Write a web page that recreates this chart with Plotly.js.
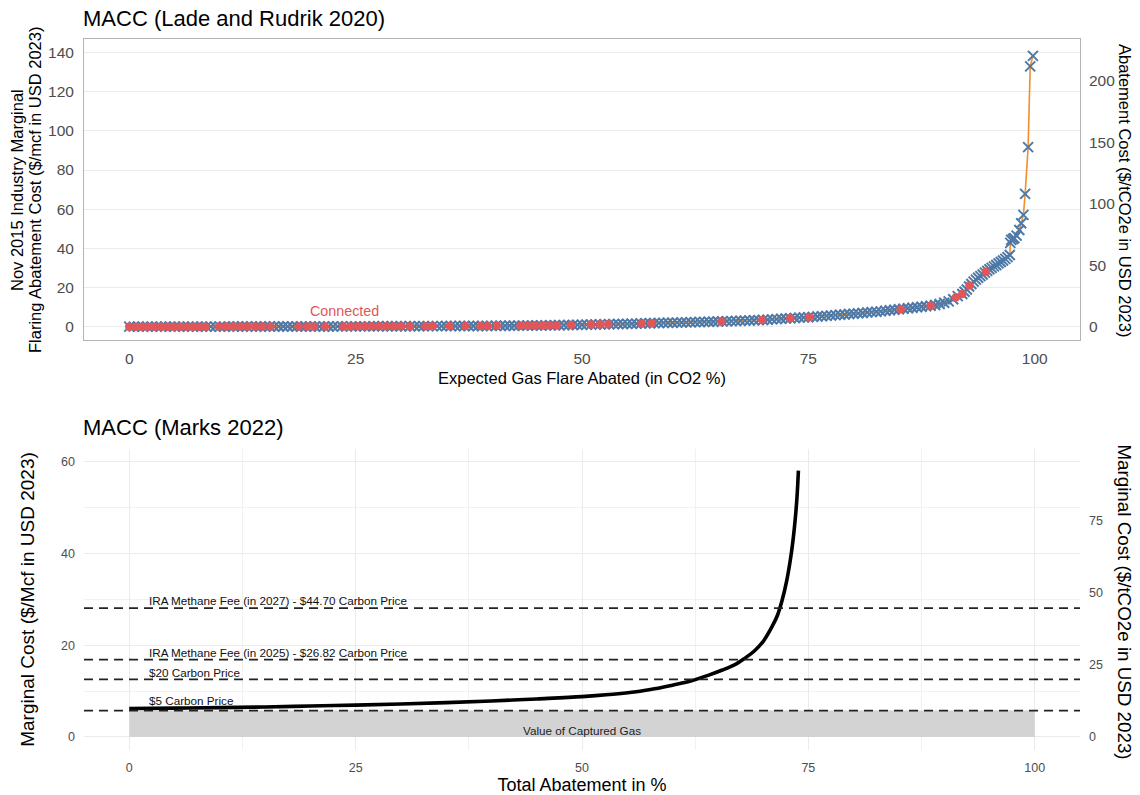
<!DOCTYPE html>
<html>
<head>
<meta charset="utf-8">
<script src="https://cdn.plot.ly/plotly-3.0.1.min.js"></script>
<style>html,body{margin:0;padding:0;background:#fff;}#chart{width:1140px;height:795px;}</style>
</head>
<body>
<div id="chart"></div>
<script>
// ---------- DATA: top panel (Lade and Rudrik 2020) ----------
const flareX = [
  0,0.5,1,1.5,2,2.5,3,3.5,4,4.5,5,5.5,6,6.5,7,7.5,8,8.5,9,9.5,
  10,10.5,11,11.5,12,12.5,13,13.5,14,14.5,15,15.5,16,16.5,17,17.5,18,18.5,19,19.5,
  20,20.5,21,21.5,22,22.5,23,23.5,24,24.5,25,25.5,26,26.5,27,27.5,28,28.5,29,29.5,
  30,30.5,31,31.5,32,32.5,33,33.5,34,34.5,35,35.5,36,36.5,37,37.5,38,38.5,39,39.5,
  40,40.5,41,41.5,42,42.5,43,43.5,44,44.5,45,45.5,46,46.5,47,47.5,48,48.5,49,49.5,
  50,50.5,51,51.5,52,52.5,53,53.5,54,54.5,55,55.5,56,56.5,57,57.5,58,58.5,59,59.5,
  60,60.5,61,61.5,62,62.5,63,63.5,64,64.5,65,65.5,66,66.5,67,67.5,68,68.5,69,69.5,
  70,70.5,71,71.5,72,72.5,73,73.5,74,74.5,75,75.5,76,76.5,77,77.5,78,78.5,79,79.5,
  80,80.5,81,81.5,82,82.5,83,83.5,84,84.5,85,85.5,86,86.5,87,87.5,88,88.5,89,89.5,
  90,90.5,91,91.5,92,
  92.25,92.5,92.75,93,93.25,93.5,93.75,94,94.25,94.5,94.75,95,95.25,95.5,95.75,96,96.25,96.5,96.75,97,97.25,
  97.3,97.4,97.6,97.75,98,98.3,98.5,98.75,98.94,99.27,99.5,99.8
];
const flareY = [
  0,0,0,0,0,0,0,0,0,0,0,0,0,0,0,0,0,0,0,0,
  0.03,0.03,0.04,0.04,0.04,0.05,0.05,0.05,0.05,0.05,0.06,0.06,0.06,0.06,0.07,0.07,0.07,0.08,0.08,0.08,
  0.1,0.1,0.11,0.11,0.12,0.12,0.13,0.13,0.14,0.14,0.15,0.15,0.16,0.16,0.17,0.17,0.18,0.18,0.19,0.19,
  0.2,0.21,0.22,0.23,0.24,0.25,0.26,0.26,0.27,0.28,0.29,0.29,0.3,0.31,0.32,0.33,0.34,0.34,0.35,0.36,
  0.4,0.42,0.44,0.46,0.48,0.5,0.52,0.54,0.56,0.58,0.6,0.63,0.66,0.69,0.72,0.75,0.79,0.83,0.87,0.92,
  1.0,1.04,1.08,1.12,1.16,1.2,1.24,1.28,1.32,1.36,1.4,1.47,1.55,1.62,1.7,1.76,1.82,1.88,1.94,1.97,
  2.0,2.06,2.12,2.18,2.24,2.3,2.36,2.42,2.48,2.54,2.6,2.68,2.76,2.84,2.92,3.0,3.08,3.16,3.24,3.32,
  3.4,3.55,3.7,3.85,4.0,4.15,4.3,4.45,4.6,4.7,4.8,4.98,5.16,5.34,5.52,5.7,5.88,6.06,6.24,6.42,
  6.6,6.8,7.0,7.2,7.4,7.6,7.8,8.1,8.4,8.65,8.9,9.15,9.4,9.65,9.9,10.15,10.4,10.7,11.1,11.6,
  12.2,12.9,14.0,15.6,16.7,
  17.8,19.0,20.5,21.8,23.0,24.0,25.0,25.8,26.6,27.6,28.5,29.3,30.0,30.8,31.5,32.3,33.0,33.8,34.6,35.5,36.6,
  42.8,44.3,44.8,45.2,46.5,49.4,52.8,57.1,67.8,91.7,132.9,138.3
];
const connX = [
  0,0.7,1.4,2.1,2.8,3.5,4.2,4.9,5.6,6.3,7.0,7.7,8.4,
  9.9,10.7,11.5,12.3,13.1,13.9,14.7,15.6,
  18.7,19.6,20.4,21.6,
  23.6,24.4,25.2,26.0,26.8,27.6,28.4,29.2,30.0,
  31.0,32.7,33.5,35.4,37.1,
  38.8,39.6,40.6,
  43.2,44.0,44.8,45.6,46.4,47.2,
  48.8,
  51.0,52.0,52.9,
  56.6,57.7,
  65.4,69.9,73.0,75.1,85.2,88.5,91.3,92.0,92.8,94.6
];
const connY = [
  0,0,0,0,0,0,0,0,0,0,0,0,0,
  0.04,0.04,0.04,0.05,0.05,0.05,0.06,0.06,
  0.08,0.08,0.11,0.11,
  0.13,0.14,0.15,0.16,0.17,0.18,0.18,0.19,0.2,
  0.22,0.26,0.27,0.29,0.32,
  0.34,0.36,0.42,
  0.52,0.56,0.59,0.64,0.68,0.72,
  0.83,
  1.08,1.16,1.24,
  1.62,1.76,
  2.64,3.38,4.3,4.8,8.9,10.6,15.0,16.7,21.0,28.1
];
const connLabel = "Connected";
const connLabelX = 23.8, connLabelY = 8;
const topLeftTitle = ["Nov 2015 Industry Marginal", "Flaring Abatement Cost ($/mcf in USD 2023)"];
const topRightTitle = "Abatement Cost ($/tCO2e in USD 2023)";

// ---------- DATA: bottom panel (Marks 2022) ----------
const marksX = [0,5,10,15,20,25,30,35,40,45,50,53,56,58,60,62,64,65.5,67,68,69,70,71,71.6,72.1,72.6,73.0,73.3,73.55,73.75,73.9];
const marksY = [6.2,6.3,6.4,6.55,6.75,6.95,7.2,7.5,7.85,8.3,8.8,9.25,9.85,10.5,11.3,12.2,13.5,14.6,15.9,17.2,18.7,20.8,24.1,26.6,29.8,34.0,38.5,42.8,47.5,52.5,58.1];
const priceLabels = [
  "IRA Methane Fee (in 2027) - $44.70 Carbon Price",
  "IRA Methane Fee (in 2025) - $26.82 Carbon Price",
  "$20 Carbon Price",
  "$5 Carbon Price"
];
const priceValues = [28.1, 16.86, 12.57, 5.75];  // $/Mcf
const gasValueX = [0, 100];
const gasValueY = [5.75, 5.75];
const gasValueLabel = "Value of Captured Gas";
const gasLabelX = 50, gasLabelY = 1.5;
const botRightTitle = "Marginal Cost ($/tCO2e in USD 2023)";

const mcfToCO2 = 1.592; // secondary axis scale factor

// ---------- STYLES ----------
const FONT = "Liberation Sans, Arial, Helvetica, sans-serif";
const BLUE = "#4E79A7", RED = "#E15759", ORANGE = "#F28E2B";
const GRID = "#ebebeb", TICK = "#4d4d4d";

const topYRange = [-6.8, 146.9];
const botYRange = [-2.84, 62.8];
const xRange = [-5, 105];

const traces = [
  {x: flareX, y: flareY, type: "scatter", mode: "lines", xaxis: "x", yaxis: "y",
   line: {color: ORANGE, width: 1.6}, hoverinfo: "skip", showlegend: false},
  {x: flareX, y: flareY, type: "scatter", mode: "markers", xaxis: "x", yaxis: "y",
   marker: {symbol: "x-thin", size: 10, color: BLUE, line: {color: BLUE, width: 2}}, showlegend: false},
  {x: connX, y: connY, type: "scatter", mode: "markers", xaxis: "x", yaxis: "y",
   marker: {symbol: "circle", size: 8.5, color: RED}, showlegend: false},
  // invisible companion trace so the secondary $/tCO2e axis is drawn
  {x: flareX, y: flareY.map(v => v * mcfToCO2), type: "scatter", mode: "markers", xaxis: "x", yaxis: "y3",
   marker: {opacity: 0, size: 1}, hoverinfo: "skip", showlegend: false},
  // bottom panel
  {x: gasValueX, y: gasValueY, type: "scatter", mode: "lines", xaxis: "x2", yaxis: "y2",
   fill: "tozeroy", fillcolor: "#d3d3d3", line: {width: 0, color: "#d3d3d3"}, hoverinfo: "skip", showlegend: false},
  {x: marksX, y: marksY, type: "scatter", mode: "lines", xaxis: "x2", yaxis: "y2",
   line: {color: "#000", width: 3.6, shape: "spline", smoothing: 1}, showlegend: false},
  {x: marksX, y: marksY.map(v => v * mcfToCO2), type: "scatter", mode: "markers", xaxis: "x2", yaxis: "y4",
   marker: {opacity: 0, size: 1}, hoverinfo: "skip", showlegend: false}
];

const shapes = priceValues.map(v => ({
  type: "line", xref: "x2 domain", x0: 0, x1: 1, yref: "y2", y0: v, y1: v,
  line: {color: "#222", width: 1.8, dash: "9px,6px"}, layer: "above"
}));

const labelShift = [-1, -1, -2, 2];
const topLeftX = [-0.0673, -0.0492];
const annotations = [
  {text: "MACC (Lade and Rudrik 2020)", xref: "paper", yref: "paper", x: 0, y: 1.0295, xshift: -3,
   xanchor: "left", yanchor: "middle", showarrow: false, font: {family: FONT, size: 22, color: "#000"}},
  {text: "MACC (Marks 2022)", xref: "paper", yref: "paper", x: 0, y: 0.4529, xshift: -3,
   xanchor: "left", yanchor: "middle", showarrow: false, font: {family: FONT, size: 22, color: "#000"}},
  {text: topRightTitle, xref: "paper", yref: "paper", x: 1.0452, y: 0.7876, textangle: 90,
   xanchor: "center", yanchor: "middle", showarrow: false, font: {family: FONT, size: 16.5, color: "#000"}},
  {text: botRightTitle, xref: "paper", yref: "paper", x: 1.0452, y: 0.209, textangle: 90,
   xanchor: "center", yanchor: "middle", showarrow: false, font: {family: FONT, size: 18.8, color: "#000"}},
  {text: connLabel, xref: "x", yref: "y", x: connLabelX, y: connLabelY, showarrow: false,
   font: {family: FONT, size: 14.3, color: RED}},
  {text: gasValueLabel, xref: "x2", yref: "y2", x: gasLabelX, y: gasLabelY, showarrow: false,
   font: {family: FONT, size: 11.7, color: "#222"}}
].concat(topLeftTitle.map((t, i) => ({
  text: t, xref: "paper", yref: "paper", x: topLeftX[i], y: 0.7876, textangle: -90,
  xanchor: "center", yanchor: "middle", showarrow: false, font: {family: FONT, size: 16.5, color: "#000"}
}))).concat(priceLabels.map((t, i) => ({
  text: t, xref: "x2", yref: "y2", x: 2, y: priceValues[i], xanchor: "left", yanchor: "bottom",
  yshift: labelShift[i], showarrow: false, font: {family: FONT, size: 11.7, color: "#111"}
})));

const layout = {
  width: 1140, height: 795,
  margin: {l: 84, r: 60, t: 39, b: 45},
  paper_bgcolor: "#fff", plot_bgcolor: "#fff",
  font: {family: FONT, color: TICK},
  showlegend: false,
  xaxis: {domain: [0, 1], anchor: "y", range: xRange, tickvals: [0, 25, 50, 75, 100],
    showgrid: false, zeroline: false, showline: true, mirror: true, linecolor: "#b3b3b3", linewidth: 1,
    ticks: "", ticklabelstandoff: 4, tickfont: {size: 15.5, color: TICK, family: FONT},
    title: {text: "Expected Gas Flare Abated (in CO2 %)", standoff: 6, font: {size: 16.5, color: "#000", family: FONT}}},
  yaxis: {domain: [0.5767, 1], anchor: "x", range: topYRange, dtick: 20, tick0: 0,
    showgrid: true, gridcolor: GRID, gridwidth: 1, zeroline: false, showline: true, mirror: true,
    linecolor: "#b3b3b3", linewidth: 1, ticks: "", ticklabelstandoff: 6,
    tickfont: {size: 15.5, color: TICK, family: FONT}},
  yaxis3: {overlaying: "y", anchor: "x", side: "right", range: topYRange.map(v => v * mcfToCO2),
    tickvals: [0, 50, 100, 150, 200], showgrid: false, zeroline: false, showline: false, ticks: "",
    ticklabelstandoff: 8, tickfont: {size: 15.5, color: TICK, family: FONT}},
  xaxis2: {domain: [0, 1], anchor: "y2", range: xRange, tickvals: [0, 25, 50, 75, 100],
    showgrid: true, gridcolor: GRID, gridwidth: 1, zeroline: false, showline: false, ticks: "",
    minor: {dtick: 12.5, tick0: 0, showgrid: true, gridcolor: "#f1f1f1", gridwidth: 1},
    ticklabelstandoff: 8, tickfont: {size: 12.5, color: TICK, family: FONT},
    title: {text: "Total Abatement in %", standoff: 4, font: {size: 18, color: "#000", family: FONT}}},
  yaxis2: {domain: [0, 0.4233], anchor: "x2", range: botYRange, dtick: 20, tick0: 0,
    showgrid: true, gridcolor: GRID, gridwidth: 1, zeroline: false, showline: false, ticks: "",
    minor: {dtick: 10, tick0: 0, showgrid: true, gridcolor: "#f1f1f1", gridwidth: 1},
    ticklabelstandoff: 8, tickfont: {size: 12.5, color: TICK, family: FONT},
    title: {text: "Marginal Cost ($/Mcf in USD 2023)", standoff: 21, font: {size: 19, color: "#000", family: FONT}}},
  yaxis4: {overlaying: "y2", anchor: "x2", side: "right", range: botYRange.map(v => v * mcfToCO2),
    tickvals: [0, 25, 50, 75], showgrid: false, zeroline: false, showline: false, ticks: "",
    ticklabelstandoff: 8, tickfont: {size: 12.5, color: TICK, family: FONT}},
  shapes: shapes,
  annotations: annotations
};

Plotly.newPlot("chart", traces, layout, {displayModeBar: false, staticPlot: true});
</script>
</body>
</html>
